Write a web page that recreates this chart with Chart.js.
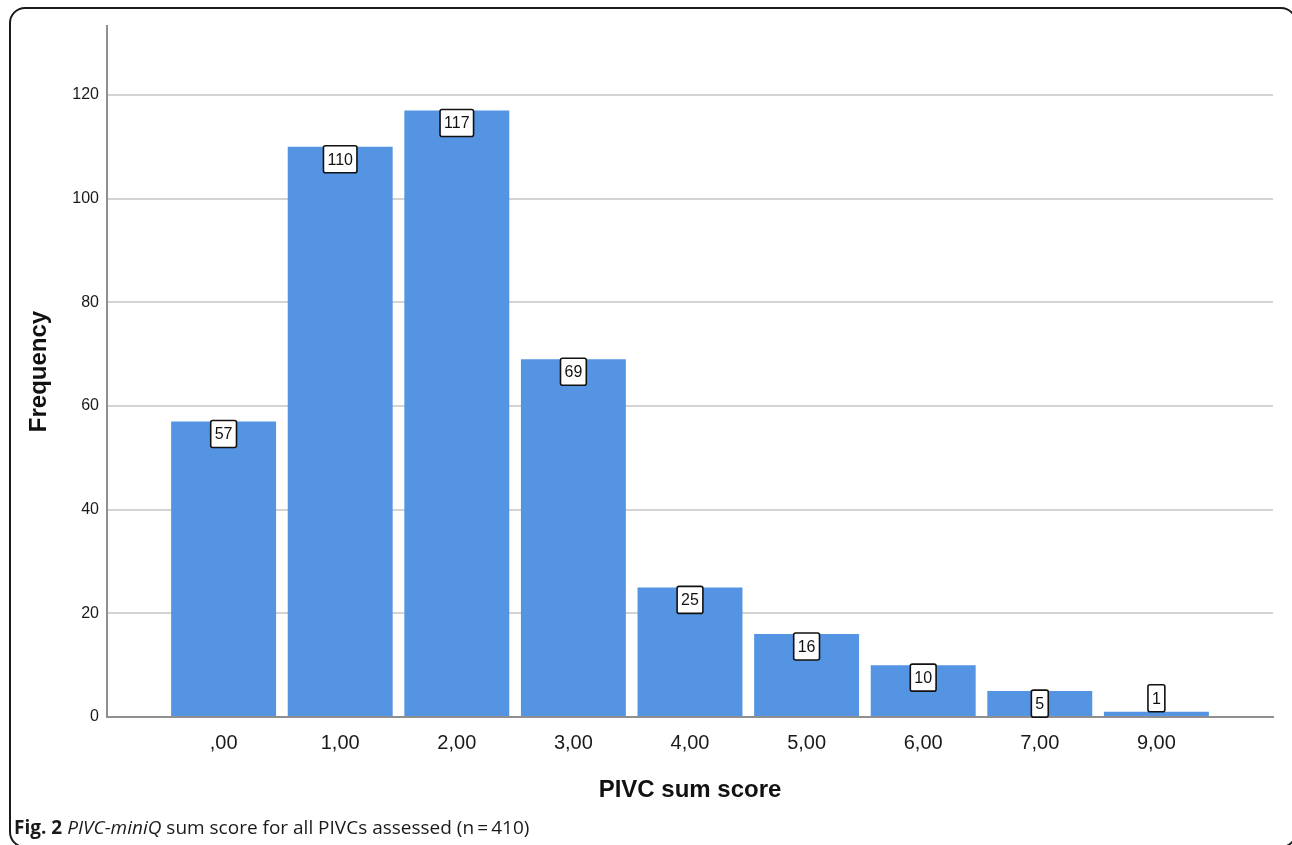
<!DOCTYPE html>
<html>
<head>
<meta charset="utf-8">
<script src="https://cdn.jsdelivr.net/npm/chart.js@4.4.0/dist/chart.umd.min.js"></script>
<style>
    html, body { margin: 0; padding: 0; background: #fff; overflow: hidden; }
    #wrap { position: absolute; left: 0; top: 0; width: 1292px; height: 845px; overflow: hidden; }
    #frame {
        position: absolute; left: 9px; top: 7px; width: 1288px; height: 841px;
        box-sizing: border-box; border: 2px solid #1a1a1a; border-radius: 16px;
    }
    #caption {
        position: absolute; left: 14px; top: 814px; line-height: 26px;
        font-family: "Open Sans", "Noto Sans", sans-serif; font-size: 19px; color: #1a1a1a;
        white-space: nowrap;
    }
</style>
</head>
<body>
<div id="wrap">
    <div id="frame"></div>
    <canvas id="freqChart" width="1292" height="845"></canvas>
    <div id="caption"><b>Fig. 2</b> <i>PIVC-miniQ</i> sum score for all PIVCs assessed (n&#8201;=&#8201;410)</div>
</div>
<script>
// PIVC sum score histogram

const categories = [',00', '1,00', '2,00', '3,00', '4,00', '5,00', '6,00', '7,00', '9,00'];
const counts = [57, 110, 117, 69, 25, 16, 10, 5, 1];
const yTicks = [0, 20, 40, 60, 80, 100, 120];

// one empty slot on each side, like the SPSS output
const labels = [''].concat(categories, ['']);
const values = [null].concat(counts, [null]);

const boxLabels = {
    id: 'boxLabels',
    afterDatasetsDraw(chart) {
        const ctx = chart.ctx;
        const meta = chart.getDatasetMeta(0);
        ctx.save();
        ctx.font = '16px Arial, "Liberation Sans", sans-serif';
        ctx.textAlign = 'center';
        ctx.textBaseline = 'middle';
        meta.data.forEach((bar, i) => {
            const v = values[i];
            if (v === null) return;
            const text = String(v);
            const w = ctx.measureText(text).width + 8;
            const h = 27;
            const top = (bar.base - bar.y) >= 20 ? bar.y - 1 : bar.y - h;
            ctx.beginPath();
            ctx.roundRect(bar.x - w / 2, top, w, h, 2);
            ctx.fillStyle = '#ffffff';
            ctx.fill();
            ctx.lineWidth = 1.6;
            ctx.strokeStyle = '#111111';
            ctx.stroke();
            ctx.fillStyle = '#111111';
            ctx.fillText(text, bar.x, top + h / 2 + 1);
        });
        ctx.restore();
    }
};

const ctx = document.getElementById('freqChart').getContext('2d');

new Chart(ctx, {
    type: 'bar',
    data: {
        labels: labels,
        datasets: [{
            label: 'Frequency',
            data: values,
            backgroundColor: '#5594E2',
            borderWidth: 0,
            barPercentage: 0.9,
            categoryPercentage: 1.0
        }]
    },
    options: {
        responsive: false,
        animation: false,
        layout: {
            padding: { left: 0, right: 19, top: 26, bottom: 28 }
        },
        plugins: {
            legend: { display: false },
            tooltip: { enabled: false }
        },
        scales: {
            x: {
                offset: false,
                grid: { display: false, drawTicks: false },
                border: { color: '#8f8f8f', width: 2 },
                ticks: {
                    color: '#1a1a1a',
                    font: { family: 'Arial, "Liberation Sans", sans-serif', size: 20 },
                    padding: 14,
                    autoSkip: false,
                    maxRotation: 0
                },
                title: {
                    display: true,
                    text: 'PIVC sum score',
                    color: '#111111',
                    font: { family: 'Arial, "Liberation Sans", sans-serif', size: 24, weight: 'bold' },
                    padding: { top: 0, bottom: 12 }
                },
                afterFit(scale) { scale.height = 100; }
            },
            y: {
                min: 0,
                max: 133.3,
                grid: { color: '#d3d3d3', lineWidth: 2, drawTicks: false },
                border: { color: '#8f8f8f', width: 2 },
                ticks: {
                    color: '#1a1a1a',
                    font: { family: 'Arial, "Liberation Sans", sans-serif', size: 16 },
                    padding: 8
                },
                afterBuildTicks(axis) {
                    axis.ticks = yTicks.map(v => ({ value: v }));
                },
                title: {
                    display: true,
                    text: 'Frequency',
                    color: '#111111',
                    font: { family: 'Arial, "Liberation Sans", sans-serif', size: 24, weight: 'bold' },
                    padding: { top: 25, bottom: 0 }
                },
                afterFit(scale) { scale.width = 107; }
            }
        }
    },
    plugins: [boxLabels]
});
</script>
</body>
</html>
